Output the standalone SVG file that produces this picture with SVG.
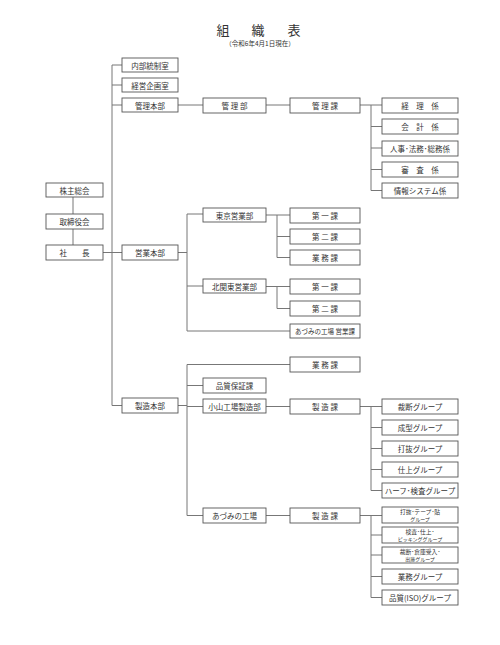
<svg xmlns="http://www.w3.org/2000/svg" width="500" height="645" viewBox="0 0 500 645">
<style>
.b rect{fill:#fff;stroke:#555;stroke-width:0.9}
.b text{font-family:"Noto Sans CJK JP","Liberation Serif",sans-serif;font-size:7.5px;fill:#333;text-anchor:middle;dominant-baseline:central}
.b text.s{font-size:6.5px}
.b text.u{font-size:5.8px}
.b text.t{font-size:5px}
#conn path{fill:none;stroke:#777;stroke-width:1}
.title{font-family:"Noto Sans CJK JP","Liberation Serif",sans-serif;fill:#333;text-anchor:middle}
</style>
<rect width="500" height="645" fill="#fff"/>
<g id="title">
<text class="title" x="223" y="35" font-size="13">組</text>
<text class="title" x="258" y="35" font-size="13">織</text>
<text class="title" x="294" y="35" font-size="13">表</text>
<text class="title" x="260" y="46" font-size="6.5">（令和6年4月1日現在）</text>
</g>
<g id="conn">
<path d="M73 197V214M73 229V245"/>
<path d="M103 252.5H112M112 65V405.5M112 65H122M112 85H122M112 105H122M112 252.5H122M112 405.5H122"/>
<path d="M178 105H203M266 105H290M360 105H382M371 105V190.5M371 126.5H382M371 148H382M371 169.5H382M371 190.5H382"/>
<path d="M178 252.5H187M187 214V331M187 214H203M187 286H203M187 331H290"/>
<path d="M266 215H290M277 215V257.5M277 236.5H290M277 257.5H290"/>
<path d="M266 286.5H290M277 286.5V308.5M277 308.5H290"/>
<path d="M178 405.5H187M187 364.5V515.5M187 364.5H290M187 385.5H203M187 406.5H203M187 515.5H203"/>
<path d="M266 406.5H290M360 406.5H382M371 406.5V490.5M371 427.5H382M371 448.5H382M371 469.5H382M371 490.5H382"/>
<path d="M266 515.5H290M360 515.5H382M371 515V597.5M371 535H382M371 555H382M371 576.5H382M371 597.5H382"/>
</g>
<g id="n1" class="b"><rect x="46" y="183" width="57" height="14"/><text x="74.5" y="190">株主総会</text></g>
<g id="n2" class="b"><rect x="46" y="214" width="57" height="15"/><text x="74.5" y="221.5">取締役会</text></g>
<g id="n3" class="b"><rect x="46" y="245" width="57" height="15"/><text x="74.5" y="252.5" xml:space="preserve">社　　長</text></g>
<g id="n4" class="b"><rect x="122" y="58" width="56" height="14"/><text x="150" y="65">内部統制室</text></g>
<g id="n5" class="b"><rect x="122" y="78" width="56" height="14"/><text x="150" y="85">経営企画室</text></g>
<g id="n6" class="b"><rect x="122" y="98" width="56" height="14"/><text x="150" y="105">管理本部</text></g>
<g id="n7" class="b"><rect x="122" y="245" width="56" height="15"/><text x="150" y="252.5">営業本部</text></g>
<g id="n8" class="b"><rect x="122" y="398" width="56" height="15"/><text x="150" y="405.5">製造本部</text></g>
<g id="n9" class="b"><rect x="203" y="98" width="63" height="15"/><text x="234.5" y="105.5">管 理 部</text></g>
<g id="n10" class="b"><rect x="203" y="208" width="63" height="14"/><text x="234.5" y="215">東京営業部</text></g>
<g id="n11" class="b"><rect x="203" y="279" width="63" height="14"/><text x="234.5" y="286">北関東営業部</text></g>
<g id="n12" class="b"><rect x="203" y="378" width="63" height="15"/><text x="234.5" y="385.5">品質保証課</text></g>
<g id="n13" class="b"><rect x="203" y="399" width="63" height="14"/><text x="234.5" y="406">小山工場製造部</text></g>
<g id="n14" class="b"><rect x="203" y="508" width="63" height="15"/><text x="234.5" y="515.5">あづみの工場</text></g>
<g id="n15" class="b"><rect x="290" y="98" width="70" height="15"/><text x="325" y="105.5">管 理 課</text></g>
<g id="n16" class="b"><rect x="290" y="208" width="70" height="15"/><text x="325" y="215.5">第 一 課</text></g>
<g id="n17" class="b"><rect x="290" y="229" width="70" height="15"/><text x="325" y="236.5">第 二 課</text></g>
<g id="n18" class="b"><rect x="290" y="250" width="70" height="15"/><text x="325" y="257.5">業 務 課</text></g>
<g id="n19" class="b"><rect x="290" y="279" width="70" height="15"/><text x="325" y="286.5">第 一 課</text></g>
<g id="n20" class="b"><rect x="290" y="301" width="70" height="15"/><text x="325" y="308.5">第 二 課</text></g>
<g id="n21" class="b"><rect x="290" y="324" width="70" height="14"/><text class="s" x="325" y="331">あづみの工場 営業課</text></g>
<g id="n22" class="b"><rect x="290" y="357" width="70" height="15"/><text x="325" y="364.5">業 務 課</text></g>
<g id="n23" class="b"><rect x="290" y="399" width="70" height="15"/><text x="325" y="406.5">製 造 課</text></g>
<g id="n24" class="b"><rect x="290" y="508" width="70" height="15"/><text x="325" y="515.5">製 造 課</text></g>
<g id="n25" class="b"><rect x="382" y="98" width="76" height="15"/><text x="420" y="105.5" xml:space="preserve">経　理　係</text></g>
<g id="n26" class="b"><rect x="382" y="119" width="76" height="15"/><text x="420" y="126.5" xml:space="preserve">会　計　係</text></g>
<g id="n27" class="b"><rect x="382" y="141" width="76" height="15"/><text x="420" y="148.5">人事･法務･総務係</text></g>
<g id="n28" class="b"><rect x="382" y="162" width="76" height="15"/><text x="420" y="169.5" xml:space="preserve">審　査　係</text></g>
<g id="n29" class="b"><rect x="382" y="183" width="76" height="15"/><text x="420" y="190.5">情報システム係</text></g>
<g id="n30" class="b"><rect x="382" y="399" width="76" height="15"/><text x="420" y="406.5">裁断グループ</text></g>
<g id="n31" class="b"><rect x="382" y="420" width="76" height="15"/><text x="420" y="427.5">成型グループ</text></g>
<g id="n32" class="b"><rect x="382" y="441" width="76" height="15"/><text x="420" y="448.5">打抜グループ</text></g>
<g id="n33" class="b"><rect x="382" y="462" width="76" height="15"/><text x="420" y="469.5">仕上グループ</text></g>
<g id="n34" class="b"><rect x="382" y="483" width="76" height="15"/><text x="420" y="490.5">ハーフ･検査グループ</text></g>
<g id="n35" class="b"><rect x="382" y="507" width="76" height="16"/><text class="u" x="420" y="511">打抜･テープ･貼</text><text class="t" x="420" y="518.8">グループ</text></g>
<g id="n36" class="b"><rect x="382" y="527" width="76" height="16"/><text class="u" x="420" y="531">検査･仕上･</text><text class="t" x="420" y="538.8">ピッキンググループ</text></g>
<g id="n37" class="b"><rect x="382" y="547" width="76" height="16"/><text class="u" x="420" y="551">裁断･倉庫受入･</text><text class="t" x="420" y="558.8">出庫グループ</text></g>
<g id="n38" class="b"><rect x="382" y="569" width="76" height="15"/><text x="420" y="576.5">業務グループ</text></g>
<g id="n39" class="b"><rect x="382" y="590" width="76" height="15"/><text x="420" y="597.5">品質(ISO)グループ</text></g>
</svg>
